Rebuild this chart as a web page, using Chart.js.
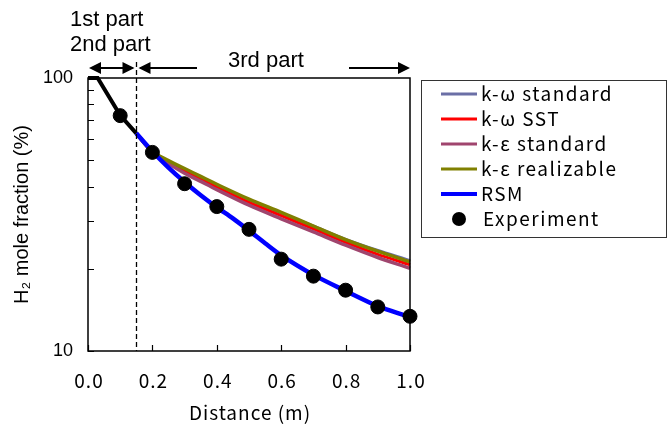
<!DOCTYPE html>
<html>
<head>
<meta charset="utf-8">
<script src="https://cdn.jsdelivr.net/npm/chart.js@4"></script>
<style>
  html, body { margin: 0; padding: 0; background: #fff; }
  #wrap { width: 668px; height: 430px; }
</style>
</head>
<body>
<div id="wrap"><canvas id="chart" width="668" height="430"></canvas></div>
<script>
'use strict';

// x positions (m)
var inletX = [0, 0.03, 0.1, 0.15];
var modelX = [0.15, 0.2, 0.25, 0.3, 0.35, 0.4, 0.5, 0.6, 0.7, 0.8, 0.9, 1.0, 1.02];
var rsmX = [0.15, 0.2, 0.25, 0.3, 0.35, 0.4, 0.45, 0.5, 0.55, 0.6, 0.7, 0.8, 0.9, 1.0, 1.02];
var expX = [0.1, 0.2, 0.3, 0.4, 0.5, 0.6, 0.7, 0.8, 0.9, 1.0];

// H2 mole fraction (%)
var inletY = [100, 100, 73, 62.7];
var kwStandard = [62.7, 53.6, 49.4, 46.0, 43.0, 40.2, 35.6, 31.9, 28.6, 25.6, 23.3, 21.4, 21.0];
var kwSST = [62.7, 53.6, 49.2, 45.6, 42.6, 39.8, 35.0, 31.3, 28.0, 25.0, 22.6, 20.7, 20.3];
var keStandard = [62.7, 53.4, 48.6, 44.8, 41.8, 39.0, 34.2, 30.5, 27.3, 24.4, 22.0, 20.1, 19.7];
var keRealizable = [62.7, 53.8, 49.8, 46.6, 43.6, 40.8, 36.0, 32.2, 28.7, 25.6, 23.2, 21.2, 20.8];
var rsm = [62.7, 53.8, 47.0, 41.6, 37.2, 33.6, 30.6, 27.6, 24.8, 22.4, 19.0, 16.6, 14.6, 13.3, 13.0];
var experiment = [72.8, 53.4, 41.0, 33.8, 27.9, 21.7, 18.8, 16.7, 14.5, 13.4];

var xTicks = [0, 0.2, 0.4, 0.6, 0.8, 1.0];
var yTicks = [10, 20, 30, 40, 50, 60, 70, 80, 90, 100];
var yLabels = [10, 100];
var partBoundary = 0.15;

var gothic = '"Noto Sans CJK JP", sans-serif';
var arial = '"Liberation Sans", Arial, sans-serif';

var legendItems = [
    { text: 'k-ω standard', color: '#6b6fa6', width: 3 },
    { text: 'k-ω SST', color: '#ff0000', width: 3 },
    { text: 'k-ε standard', color: '#a0456e', width: 3 },
    { text: 'k-ε realizable', color: '#808000', width: 3 },
    { text: 'RSM', color: '#0000ff', width: 4 },
    { text: 'Experiment', color: '#000000', dot: true }
];

function pts(xs, ys) {
    return xs.map(function(x, i) { return { x: x, y: ys[i] }; });
}

function lineSet(label, xs, ys, color, w, tension) {
    return {
        label: label,
        data: pts(xs, ys),
        borderColor: color,
        backgroundColor: color,
        borderWidth: w,
        pointRadius: 0,
        tension: tension,
        clip: false
    };
}

function arrowHead(ctx, x, y, dir) {
    ctx.beginPath();
    ctx.moveTo(x, y);
    ctx.lineTo(x - dir * 12, y - 6);
    ctx.lineTo(x - dir * 12, y + 6);
    ctx.closePath();
    ctx.fill();
}

var decorPlugin = {
    id: 'decor',
    afterDraw: function(chart) {
        var ctx = chart.ctx;
        var a = chart.chartArea;
        var xs = chart.scales.x;
        var ys = chart.scales.y;
        ctx.save();
        ctx.strokeStyle = '#000';
        ctx.fillStyle = '#000';

        // frame
        ctx.lineWidth = 1.5;
        ctx.strokeRect(a.left, a.top, a.right - a.left, a.bottom - a.top);

        // inward ticks
        ctx.lineWidth = 1.2;
        ctx.beginPath();
        yTicks.forEach(function(v) {
            var py = Math.round(ys.getPixelForValue(v)) + 0.5;
            ctx.moveTo(a.left, py);
            ctx.lineTo(a.left + 6, py);
        });
        xTicks.forEach(function(v) {
            var px = Math.round(xs.getPixelForValue(v)) + 0.5;
            ctx.moveTo(px, a.bottom);
            ctx.lineTo(px, a.bottom - 6);
        });
        ctx.stroke();

        // x tick labels and title (gothic, letter spaced)
        ctx.letterSpacing = '1px';
        ctx.font = '19px ' + gothic;
        ctx.textAlign = 'center';
        ctx.textBaseline = 'middle';
        xTicks.forEach(function(v) {
            ctx.fillText(v.toFixed(1), xs.getPixelForValue(v) + 1, 381);
        });
        ctx.fillText('Distance (m)', (a.left + a.right) / 2 + 1, 413);
        ctx.letterSpacing = '0px';

        // dashed boundary
        var bx = Math.round(xs.getPixelForValue(partBoundary)) + 0.5;
        ctx.lineWidth = 1.3;
        ctx.setLineDash([5, 3]);
        ctx.beginPath();
        ctx.moveTo(bx, 62);
        ctx.lineTo(bx, a.bottom);
        ctx.stroke();
        ctx.setLineDash([]);

        // part arrows
        var ay = 68;
        var x0 = xs.getPixelForValue(0);
        var x1 = xs.getPixelForValue(1);
        ctx.lineWidth = 2;
        ctx.beginPath();
        ctx.moveTo(x0 + 4, ay); ctx.lineTo(bx - 4, ay);
        ctx.moveTo(bx + 4, ay); ctx.lineTo(197, ay);
        ctx.moveTo(349, ay); ctx.lineTo(x1 - 4, ay);
        ctx.stroke();
        arrowHead(ctx, x0 + 1, ay, -1);
        arrowHead(ctx, bx - 2, ay, 1);
        arrowHead(ctx, bx + 2, ay, -1);
        arrowHead(ctx, x1, ay, 1);

        ctx.font = '22px ' + arial;
        ctx.textAlign = 'left';
        ctx.fillText('1st part', 70, 20);
        ctx.fillText('2nd part', 70, 45);
        ctx.fillText('3rd part', 228, 61);

        // legend
        ctx.lineWidth = 1;
        ctx.strokeStyle = '#333';
        ctx.strokeRect(421.5, 80.5, 245, 157);
        ctx.font = '19px ' + gothic;
        ctx.letterSpacing = '1.5px';
        legendItems.forEach(function(it, i) {
            var y = 94 + i * 25;
            if (it.dot) {
                ctx.fillStyle = it.color;
                ctx.beginPath();
                ctx.arc(459, y, 7, 0, Math.PI * 2);
                ctx.fill();
            } else {
                ctx.strokeStyle = it.color;
                ctx.lineWidth = it.width;
                ctx.beginPath();
                ctx.moveTo(441, y);
                ctx.lineTo(477, y);
                ctx.stroke();
            }
            ctx.fillStyle = '#000';
            ctx.fillText(it.text, it.dot ? 483 : 481, y);
        });
        ctx.restore();
    }
};

var chart = new Chart(document.getElementById('chart').getContext('2d'), {
    type: 'line',
    data: {
        datasets: [
            {
                label: 'Experiment',
                data: pts(expX, experiment),
                showLine: false,
                pointRadius: 7,
                pointBackgroundColor: '#000',
                pointBorderColor: '#000',
                clip: false
            },
            lineSet('RSM', rsmX, rsm, '#0000ff', 4.5, 0.3),
            lineSet('inlet', inletX, inletY, '#000000', 4, 0),
            lineSet('k-ε realizable', modelX, keRealizable, '#808000', 3.5, 0.3),
            lineSet('k-ε standard', modelX, keStandard, '#a0456e', 3.5, 0.3),
            lineSet('k-ω SST', modelX, kwSST, '#ff0000', 3, 0.3),
            lineSet('k-ω standard', modelX, kwStandard, '#6b6fa6', 3.5, 0.3)
        ]
    },
    options: {
        responsive: false,
        animation: false,
        layout: { padding: { top: 78, left: 0, right: 258, bottom: 0 } },
        plugins: { legend: { display: false }, tooltip: { enabled: false } },
        scales: {
            x: {
                type: 'linear',
                min: 0,
                max: 1,
                afterFit: function(s) { s.height = 79; },
                afterBuildTicks: function(s) {
                    s.ticks = xTicks.map(function(v) { return { value: v }; });
                },
                grid: { display: false, drawTicks: false },
                border: { display: false },
                ticks: { display: false }
            },
            y: {
                type: 'logarithmic',
                min: 10,
                max: 100,
                afterFit: function(s) { s.width = 88; },
                afterBuildTicks: function(s) {
                    s.ticks = yLabels.map(function(v) { return { value: v }; });
                },
                grid: { display: false, drawTicks: false },
                border: { display: false },
                ticks: {
                    autoSkip: false,
                    padding: 15,
                    color: '#000',
                    font: { family: arial, size: 18 },
                    callback: function(v) { return String(v); }
                },
                title: {
                    display: true,
                    text: 'H₂ mole fraction (%)',
                    color: '#000',
                    font: { family: arial, size: 20 },
                    padding: { top: 10, bottom: 0 }
                }
            }
        }
    },
    plugins: [decorPlugin]
});
</script>
</body>
</html>
